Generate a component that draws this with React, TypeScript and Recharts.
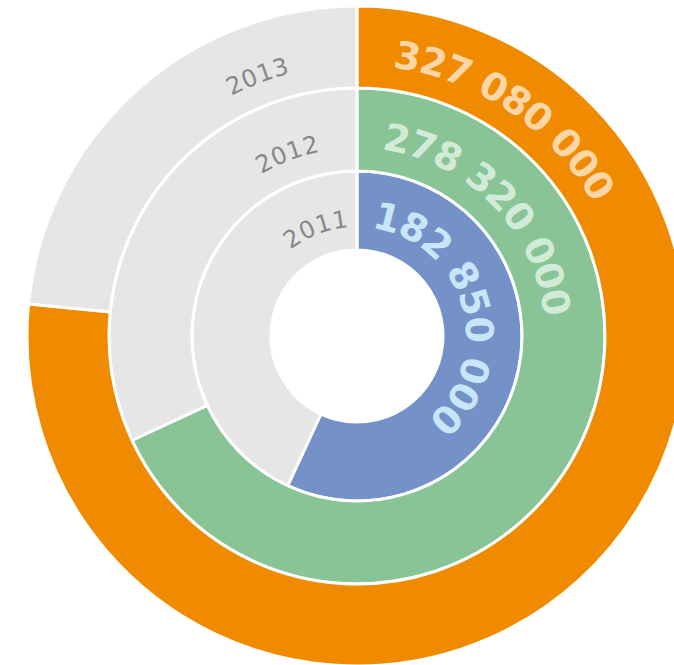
import { PieChart, Pie, Cell } from 'recharts';

const years = ['2011', '2012', '2013'];
const values = [182850000, 278320000, 327080000];
// gray part of each ring
const remainders = [138500000, 130400000, 100200000];

const ringColors = ['#7492C8', '#88C495', '#F08A00'];
const valueColors = ['#C8E6F8', '#D2EBD8', '#FDD6A8'];
const restColor = '#E6E6E6';

const radii = [
  { inner: 86, outer: 165 },
  { inner: 165, outer: 248 },
  { inner: 248, outer: 330 },
];

const fmt = (v: number) => String(v).replace(/\B(?=(\d{3})+(?!\d))/g, ' ');

const RAD = Math.PI / 180;
const pt = (cx: number, cy: number, r: number, a: number) => ({
  x: cx + r * Math.cos(-a * RAD),
  y: cy + r * Math.sin(-a * RAD),
});

// clockwise arc from recharts angle a1 down to a2
const arc = (cx: number, cy: number, r: number, a1: number, a2: number) => {
  const p1 = pt(cx, cy, r, a1);
  const p2 = pt(cx, cy, r, a2);
  const large = a1 - a2 > 180 ? 1 : 0;
  return `M ${p1.x} ${p1.y} A ${r} ${r} 0 ${large} 1 ${p2.x} ${p2.y}`;
};

const makeLabel = (ring: number) => (props: any) => {
  const { cx, cy, innerRadius, startAngle, endAngle, index, value } = props;
  const r = innerRadius + 23;
  const id = `ring-${ring}-${index}`;
  if (index === 0) {
    return (
      <g>
        <path id={id} d={arc(cx, cy, r, startAngle - 7.5, endAngle)} fill="none" stroke="none" />
        <text fontSize={38} fontWeight="bold" fontFamily="'DejaVu Sans', sans-serif" fill={valueColors[ring]}>
          <textPath href={`#${id}`} textLength={252} lengthAdjust="spacing">
            {fmt(value)}
          </textPath>
        </text>
      </g>
    );
  }
  const mid = endAngle + 21;
  return (
    <g>
      <path id={id} d={arc(cx, cy, r, mid + 40, mid - 40)} fill="none" stroke="none" />
      <text fontSize={24} fontFamily="'DejaVu Sans', sans-serif" fill="#878787">
        <textPath href={`#${id}`} startOffset="50%" textAnchor="middle" textLength={63} lengthAdjust="spacing">
          {years[ring]}
        </textPath>
      </text>
    </g>
  );
};

export default function App() {
  return (
    <div style={{ position: 'fixed', left: 0, top: 0, width: 674, height: 665, overflow: 'hidden', background: '#fff' }}>
      <PieChart width={720} height={665} margin={{ top: 0, right: 0, bottom: 0, left: 0 }}>
        {years.map((y, i) => (
          <Pie
            key={y}
            data={[
              { name: y, value: values[i] },
              { name: y, value: remainders[i] },
            ]}
            dataKey="value"
            cx={357}
            cy={336}
            innerRadius={radii[i].inner}
            outerRadius={radii[i].outer}
            startAngle={90}
            endAngle={-270}
            stroke="#ffffff"
            strokeWidth={3}
            label={makeLabel(i)}
            labelLine={false}
            isAnimationActive={false}
          >
            <Cell fill={ringColors[i]} />
            <Cell fill={restColor} />
          </Pie>
        ))}
      </PieChart>
    </div>
  );
}
